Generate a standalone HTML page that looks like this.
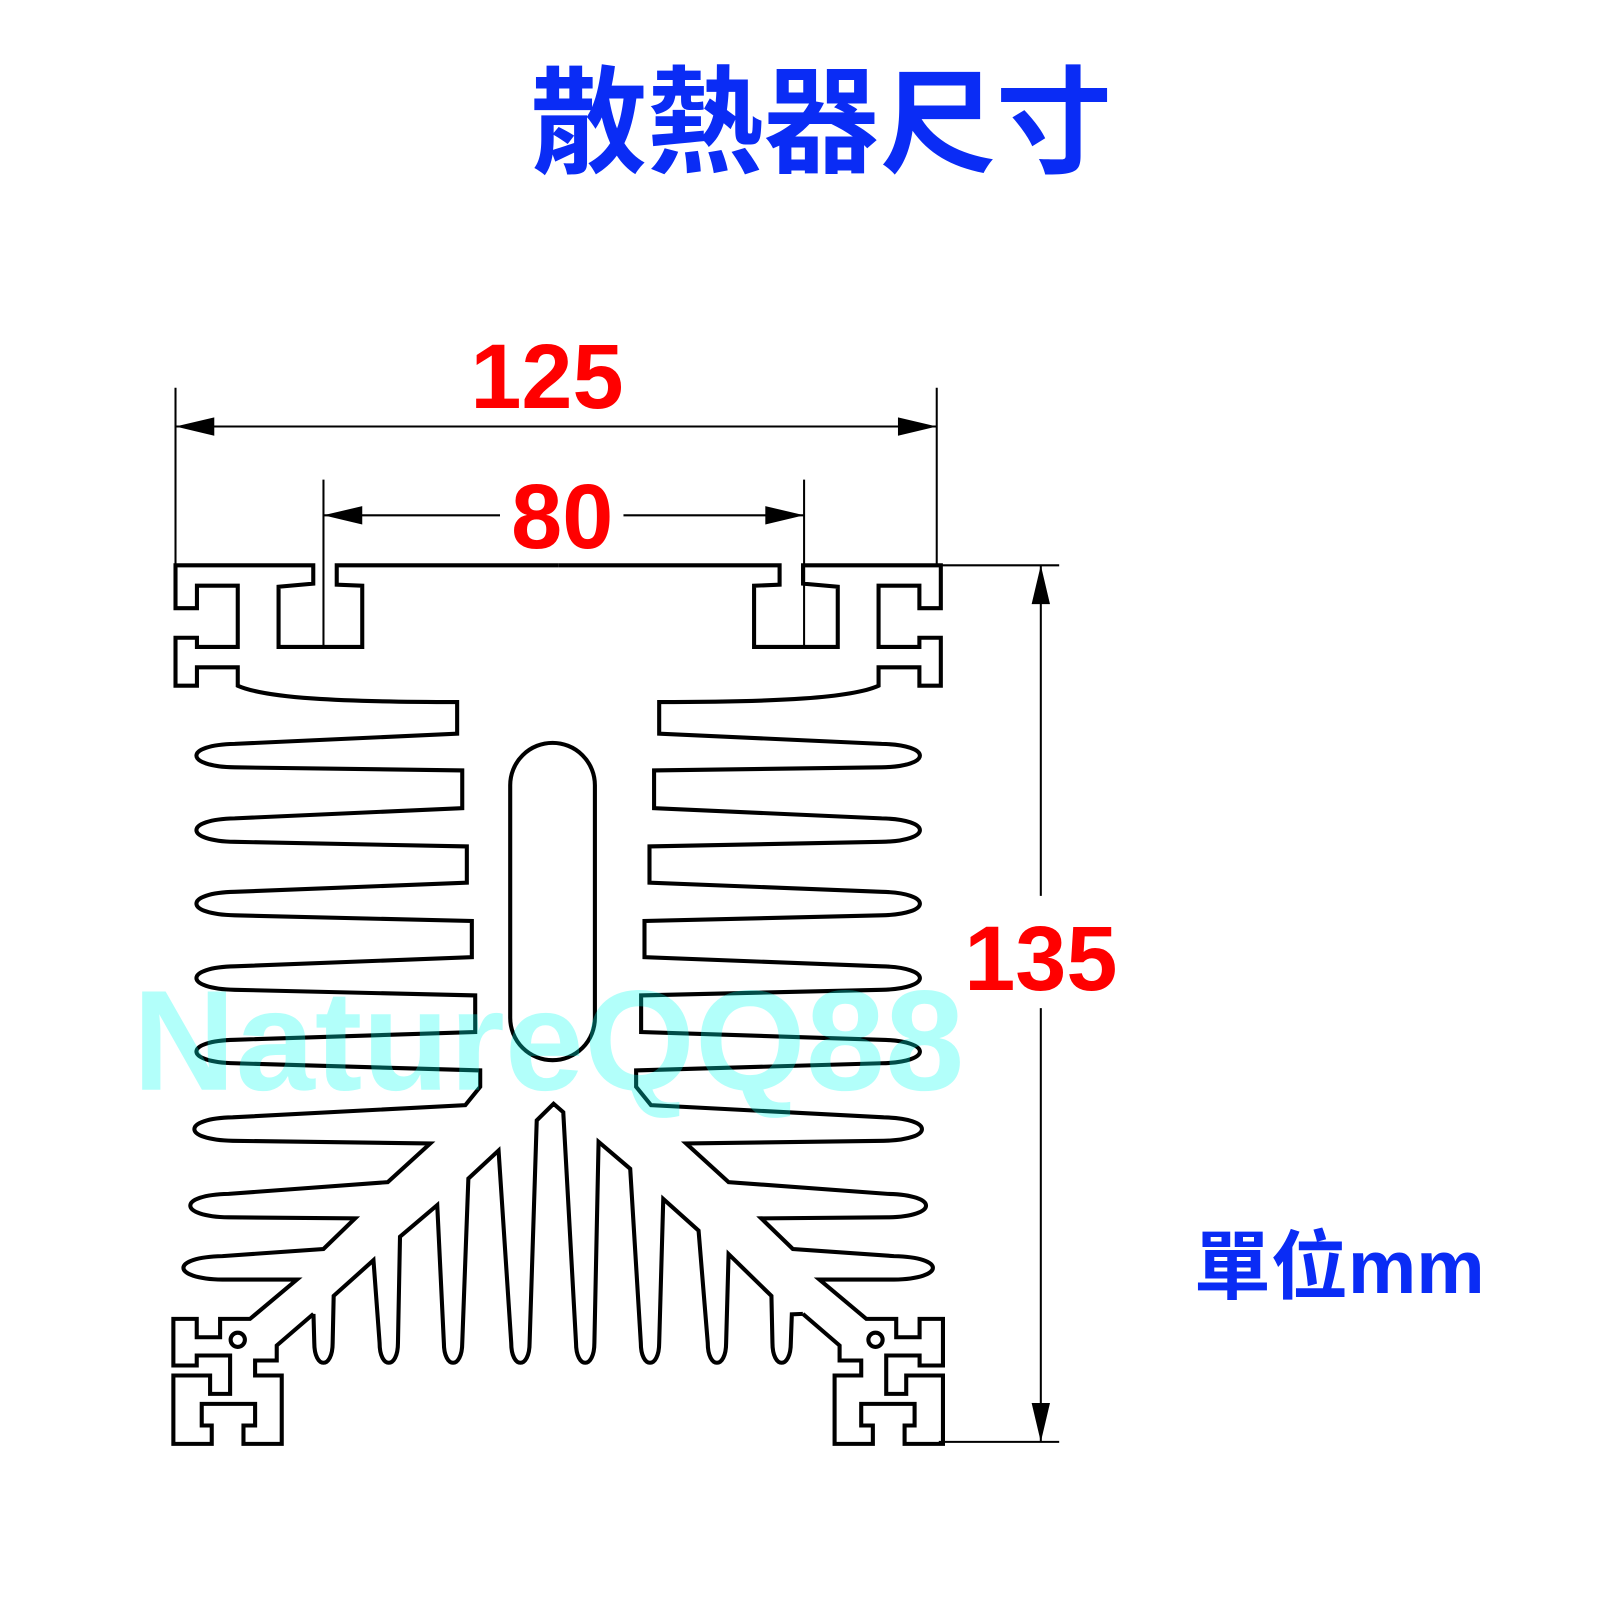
<!DOCTYPE html>
<html><head><meta charset="utf-8"><style>
html,body{margin:0;padding:0;background:#fff;}
svg{display:block;}
</style></head><body>
<svg width="1600" height="1600" viewBox="0 0 1568 1568" xmlns="http://www.w3.org/2000/svg">
<rect width="1568" height="1568" fill="#fff"/>
<text x="805" y="160" text-anchor="middle" font-family="'Liberation Sans','Noto Sans CJK TC',sans-serif" font-weight="bold" font-size="114" fill="#0a2cf5" textLength="570" lengthAdjust="spacingAndGlyphs">散熱器尺寸</text>

<g fill="none" stroke="#000" stroke-width="4" stroke-linejoin="miter">
<path id="lh" d="M547,554 L330,554 L330,573 L355,574 L355,634 L273,634 L273,575 L307,572 L307,554 L172,554 L172,596 L193,596 L193,574 L233,574 L233,634 L193,634 L193,625 L172,625 L172,672 L193,672 L193,654 L233,654 L233,672 C260,684 330,688 448,688 L448,719
L230,729 C180,730 180,751 230,752 L453,755 L453,792
L230,802 C180,803 180,824 230,825 L457.5,829.5 L457.5,865
L230,874 C180,875 180,896 230,897 L462.4,902.6 L462.4,938
L230,947 C180,948 180,969 230,970 L465.7,975.5 L465.7,1011.4
L230,1019 C180,1020 180,1041 230,1042 L470.6,1049 L470.6,1065 L456,1083
L228,1095 C178,1096 178,1117 228,1118 L421.6,1120.6 L380,1158.5
L224,1170 C174,1171 174,1192 224,1193 L348,1194 L317,1224
L218,1231 C167,1232 167,1253 218,1254 L291,1254 L245,1292.5
L215.7,1292.5 L215.7,1310.5 L192.8,1310.5 L192.8,1292.5 L169.9,1292.5 L169.9,1338.2 L192.8,1338.2 L192.8,1328.4 L225.5,1328.4 L225.5,1366 L205.9,1366 L205.9,1348 L169.9,1348 L169.9,1415 L207.5,1415 L207.5,1397 L197.7,1397 L197.7,1375.8 L250,1375.8 L250,1397 L238.6,1397 L238.6,1415 L276.1,1415 L276.1,1348 L250,1348 L250,1333.3 L271.2,1333.3 L271.2,1318.6 L307.2,1287.6"/>
<use href="#lh" transform="translate(1094,0) scale(-1,1)"/>
<path d="M307.2,1287.6 L308,1316 C308,1342 326,1342 326,1316 L327,1270 L366,1235
L372,1316 C372,1342 390,1342 390,1316 L392,1212 L428.5,1181
L435,1316 C435,1342 453,1342 453,1316 L459,1155 L488.6,1127.5
L501,1316 C501,1342 519,1342 519,1316 L526,1098 L542.5,1081.7 L552,1090
L564.5,1316 C564.5,1342 582.5,1342 582.5,1316 L586.6,1119 L617.6,1145.4
L628,1316 C628,1342 646,1342 646,1316 L650,1175 L684.6,1206
L693.6,1316 C693.6,1342 711.6,1342 711.6,1316 L714,1229 L756,1270
L757,1316 C757,1342 775,1342 775,1316 L776,1288 L786.8,1287.6"/>
<rect x="500" y="728" width="83" height="311" rx="41.5" ry="41.5"/>
<circle cx="233" cy="1313" r="7"/>
<circle cx="858" cy="1313" r="7"/>
</g>

<g stroke="#000" stroke-width="2" fill="none">
<line x1="172" y1="380" x2="172" y2="554"/>
<line x1="918" y1="380" x2="918" y2="554"/>
<line x1="172" y1="418" x2="918" y2="418"/>
<line x1="317" y1="470" x2="317" y2="634"/>
<line x1="788" y1="470" x2="788" y2="634"/>
<line x1="317" y1="505" x2="490" y2="505"/>
<line x1="611" y1="505" x2="788" y2="505"/>
<line x1="918" y1="554" x2="1038" y2="554"/>
<line x1="920" y1="1413" x2="1038" y2="1413"/>
<line x1="1020" y1="554" x2="1020" y2="878"/>
<line x1="1020" y1="988" x2="1020" y2="1413"/>
</g>
<g fill="#000">
<polygon points="172,418 210,409 210,427"/>
<polygon points="918,418 880,409 880,427"/>
<polygon points="317,505 355,496 355,514"/>
<polygon points="788,505 750,496 750,514"/>
<polygon points="1020,554 1011,592 1029,592"/>
<polygon points="1020,1413 1011,1375 1029,1375"/>
</g>

<g font-family="'Liberation Sans',sans-serif" font-weight="bold" fill="#ff0000" font-size="90" text-anchor="middle">
<text x="536" y="400">125</text>
<text x="551" y="537">80</text>
<text x="1020" y="970">135</text>
</g>
<text x="1170" y="1267" font-family="'Liberation Sans','Noto Sans CJK TC',sans-serif" font-weight="bold" font-size="74" fill="#0a2cf5" textLength="285" lengthAdjust="spacingAndGlyphs">單位mm</text>
<text x="130" y="1068" font-family="'Liberation Sans',sans-serif" font-weight="bold" font-size="140" fill="#00ffee" fill-opacity="0.3" textLength="815" lengthAdjust="spacingAndGlyphs">NatureQQ88</text>
</svg>
</body></html>
